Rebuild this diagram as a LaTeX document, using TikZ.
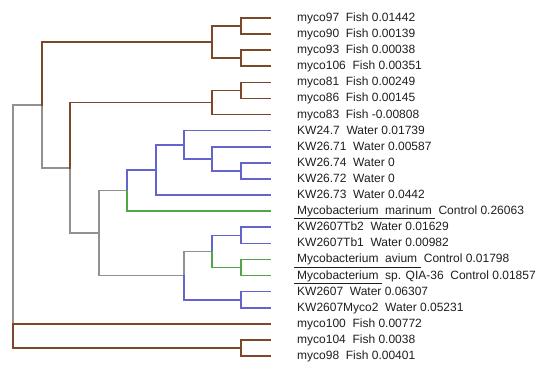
\documentclass[tikz,border=0pt]{standalone}
\usepackage{fontspec}
\setmainfont{Liberation Sans}
\definecolor{brn}{RGB}{125,72,42}
\definecolor{blu}{RGB}{100,100,205}
\definecolor{grn}{RGB}{80,165,70}
\definecolor{gry}{RGB}{145,145,145}
\definecolor{txt}{RGB}{30,30,30}
\tikzset{
  br/.style={line width=1.6pt, line cap=rect},
  cb/.style={br, brn},
  cu/.style={br, blu},
  cg/.style={br, grn},
  cy/.style={br, gry},
  lbl/.style={anchor=base west, inner sep=0pt, text=txt, font=\fontsize{12}{14}\selectfont},
}
\newcommand{\ulab}[1]{\underline{\hspace{3pt}#1}}
\begin{document}
\begin{tikzpicture}[x=1pt,y=-1pt]
\useasboundingbox (0,0) rectangle (550,371);
% leaves
\foreach \i in {0,...,21}{
  \coordinate (L\i) at (270, 18+16.1*\i);
}
% internal nodes
\coordinate (a1) at (241, 26.05);
\coordinate (a2) at (241, 58.25);
\coordinate (A)  at (212, 42.15);
\coordinate (b1) at (241, 90.45);
\coordinate (B)  at (212, 102.5);
\coordinate (c1) at (241, 170.95);
\coordinate (c2) at (212, 158.9);
\coordinate (c3) at (184, 144.8);
\coordinate (c4) at (156, 169.95);
\coordinate (C)  at (127, 190.6);
\coordinate (d1) at (241, 235.35);
\coordinate (d2) at (241, 267.55);
\coordinate (d3) at (212, 251.45);
\coordinate (d4) at (241, 299.75);
\coordinate (D)  at (184, 275.6);
\coordinate (E)  at (99, 233.1);
\coordinate (F)  at (70, 167.8);
\coordinate (G)  at (42, 104.98);
\coordinate (H)  at (13, 336);
\coordinate (R)  at (13, 220.5);
\coordinate (h1) at (241, 348.05);
% gray backbone
\draw[cy] (R) |- (G);
\draw[cy] (R) |- (H);
\draw[cy] (G) |- (F);
\draw[cy] (F) |- (E);
\draw[cy] (E) |- (C);
\draw[cy] (E) |- (D);
\draw[cy] (D) |- (d3);
% brown clades
\draw[cb] (G) |- (A);
\draw[cb] (A) |- (a1); \draw[cb] (A) |- (a2);
\draw[cb] (a1) |- (L0); \draw[cb] (a1) |- (L1);
\draw[cb] (a2) |- (L2); \draw[cb] (a2) |- (L3);
\draw[cb] (F) |- (B);
\draw[cb] (B) |- (b1); \draw[cb] (B) |- (L6);
\draw[cb] (b1) |- (L4); \draw[cb] (b1) |- (L5);
\draw[cb] (H) |- (L19); \draw[cb] (H) |- (h1);
\draw[cb] (h1) |- (L20); \draw[cb] (h1) |- (L21);
% blue clades
\draw[cu] (C) |- (c4);
\draw[cu] (c4) |- (c3); \draw[cu] (c4) |- (L11);
\draw[cu] (c3) |- (L7); \draw[cu] (c3) |- (c2);
\draw[cu] (c2) |- (L8); \draw[cu] (c2) |- (c1);
\draw[cu] (c1) |- (L9); \draw[cu] (c1) |- (L10);
\draw[cu] (d3) |- (d1);
\draw[cu] (d1) |- (L13); \draw[cu] (d1) |- (L14);
\draw[cu] (D) |- (d4);
\draw[cu] (d4) |- (L17); \draw[cu] (d4) |- (L18);
% green
\draw[cg] (C) |- (L12);
\draw[cg] (d3) |- (d2);
\draw[cg] (d2) |- (L15); \draw[cg] (d2) |- (L16);
% labels
\node[lbl] (t0)  at (297, 21.5+16.1*0)  {myco97\ \ Fish 0.01442};
\node[lbl] (t1)  at (297, 21.5+16.1*1)  {myco90\ \ Fish 0.00139};
\node[lbl] (t2)  at (297, 21.5+16.1*2)  {myco93\ \ Fish 0.00038};
\node[lbl] (t3)  at (297, 21.5+16.1*3)  {myco106\ \ Fish 0.00351};
\node[lbl] (t4)  at (297, 21.5+16.1*4)  {myco81\ \ Fish 0.00249};
\node[lbl] (t5)  at (297, 21.5+16.1*5)  {myco86\ \ Fish 0.00145};
\node[lbl] (t6)  at (297, 21.5+16.1*6)  {myco83\ \ Fish -0.00808};
\node[lbl] (t7)  at (297, 21.5+16.1*7)  {KW24.7\ \ Water 0.01739};
\node[lbl] (t8)  at (297, 21.5+16.1*8)  {KW26.71\ \ Water 0.00587};
\node[lbl] (t9)  at (297, 21.5+16.1*9)  {KW26.74\ \ Water 0};
\node[lbl] (t10) at (297, 21.5+16.1*10) {KW26.72\ \ Water 0};
\node[lbl] (t11) at (297, 21.5+16.1*11) {KW26.73\ \ Water 0.0442};
\node[lbl] (t12) at (294, 21.5+16.1*12) {\ulab{Mycobacterium\ \ marinum\ }\ Control 0.26063};
\node[lbl] (t13) at (297, 21.5+16.1*13) {KW2607Tb2\ \ Water 0.01629};
\node[lbl] (t14) at (297, 21.5+16.1*14) {KW2607Tb1\ \ Water 0.00982};
\node[lbl] (t15) at (294, 21.5+16.1*15) {\ulab{Mycobacterium\ \ avium\ }\ Control 0.01798};
\node[lbl] (t16) at (294, 21.5+16.1*16) {\ulab{Mycobacterium\ }\ sp. QIA-36\ \ Control 0.01857};
\node[lbl] (t17) at (297, 21.5+16.1*17) {KW2607\ \ Water 0.06307};
\node[lbl] (t18) at (297, 21.5+16.1*18) {KW2607Myco2\ \ Water 0.05231};
\node[lbl] (t19) at (297, 21.5+16.1*19) {myco100\ \ Fish 0.00772};
\node[lbl] (t20) at (297, 21.5+16.1*20) {myco104\ \ Fish 0.0038};
\node[lbl] (t21) at (297, 21.5+16.1*21) {myco98\ \ Fish 0.00401};
\end{tikzpicture}
\end{document}
